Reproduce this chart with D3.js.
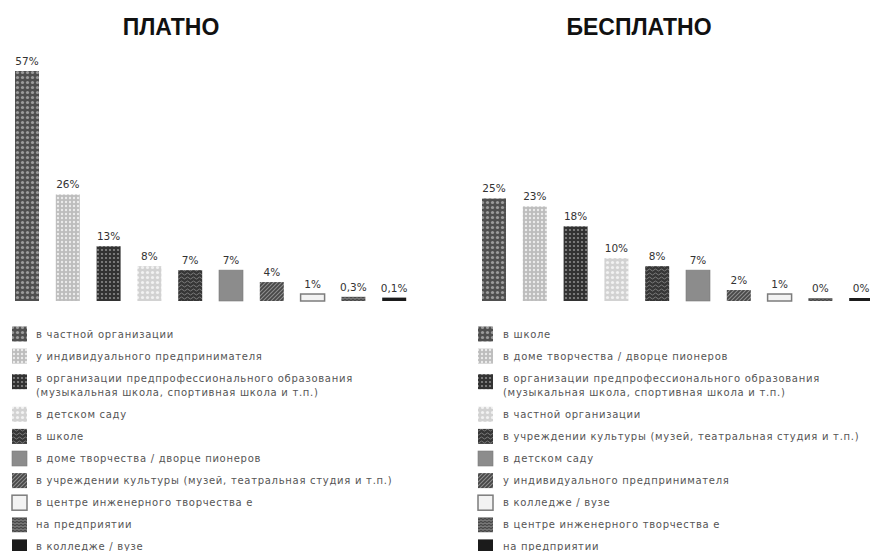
<!DOCTYPE html>
<html><head><meta charset="utf-8">
<script src="https://cdn.jsdelivr.net/npm/d3@7"></script>
<style>
html,body{margin:0;padding:0;background:#fff;}
svg{display:block;}
</style>
</head><body>
<svg id="chart" width="870" height="551"></svg>
<script>
// ---- data ----
const paidCategories = [
  "в частной организации",
  "у индивидуального предпринимателя",
  "в организации предпрофессионального образования\n(музыкальная школа, спортивная школа и т.п.)",
  "в детском саду",
  "в школе",
  "в доме творчества / дворце пионеров",
  "в учреждении культуры (музей, театральная студия и т.п.)",
  "в центре инженерного творчества е",
  "на предприятии",
  "в колледже / вузе"
];
const paidValues = [57, 26, 13, 8, 7, 7, 4, 1, 0.3, 0.1];
const paidLabels = ["57%", "26%", "13%", "8%", "7%", "7%", "4%", "1%", "0,3%", "0,1%"];

const freeCategories = [
  "в школе",
  "в доме творчества / дворце пионеров",
  "в организации предпрофессионального образования\n(музыкальная школа, спортивная школа и т.п.)",
  "в частной организации",
  "в учреждении культуры (музей, театральная студия и т.п.)",
  "в детском саду",
  "у индивидуального предпринимателя",
  "в колледже / вузе",
  "в центре инженерного творчества е",
  "на предприятии"
];
const freeValues = [25, 23, 18, 10, 8, 7, 2, 1, 0, 0];
const freeLabels = ["25%", "23%", "18%", "10%", "8%", "7%", "2%", "1%", "0%", "0%"];

const titles = ["ПЛАТНО", "БЕСПЛАТНО"];

// ---- drawing ----
const svg = d3.select("#chart");
const defs = svg.append("defs");

function pat(id, w, h, bg, draw) {
  const p = defs.append("pattern").attr("id", id).attr("patternUnits", "userSpaceOnUse")
    .attr("width", w).attr("height", h);
  p.append("rect").attr("width", w).attr("height", h).attr("fill", bg);
  if (draw) draw(p);
}
pat("p1", 5, 5, "#4f4f4f", p => {
  p.append("circle").attr("cx", 2.5).attr("cy", 2.5).attr("r", 1.6).attr("fill", "#9c9c9c");
});
pat("p2", 4, 4, "#bdbdbd", p => {
  p.append("circle").attr("cx", 2).attr("cy", 2).attr("r", 1.2).attr("fill", "#ececec");
});
pat("p3", 4, 4, "#323232", p => {
  p.append("circle").attr("cx", 2).attr("cy", 2).attr("r", 1.1).attr("fill", "#8a8a8a");
});
pat("p4", 5, 5, "#d2d2d2", p => {
  p.append("circle").attr("cx", 2.5).attr("cy", 2.5).attr("r", 1.6).attr("fill", "#f2f2f2");
});
pat("p5", 6, 4, "#363636", p => {
  p.append("path").attr("d", "M0,2 Q1.5,0 3,2 T6,2").attr("fill", "none").attr("stroke", "#7a7a7a").attr("stroke-width", 1);
});
pat("p6", 4, 4, "#8c8c8c");
pat("p7", 4, 4, "#474747", p => {
  p.append("path").attr("d", "M-1,1 L1,-1 M0,4 L4,0 M3,5 L5,3").attr("stroke", "#8e8e8e").attr("stroke-width", 1.1);
});
pat("p8", 4, 4, "#f3f3f3");
pat("p9", 4, 3, "#4a4a4a", p => {
  p.append("path").attr("d", "M0,1.5 Q1,0 2,1.5 T4,1.5").attr("fill", "none").attr("stroke", "#9a9a9a").attr("stroke-width", 0.9);
});
pat("p10", 4, 4, "#1b1b1b");

const fills = ["url(#p1)", "url(#p2)", "url(#p3)", "url(#p4)", "url(#p5)", "url(#p6)", "url(#p7)", "url(#p8)", "url(#p9)", "url(#p10)"];
const strokes = [null, null, null, null, null, "#7a7a7a", null, "#7c7c7c", null, null];

const baseline = 301;
const y = d3.scaleLinear().domain([0, 57]).range([baseline - 3, 71]);

const panels = [
  { cats: paidCategories, vals: paidValues, labs: paidLabels, x0: 15, titleX: 171, legX: 12, textX: 36, title: titles[0] },
  { cats: freeCategories, vals: freeValues, labs: freeLabels, x0: 482, titleX: 639, legX: 478, textX: 503, title: titles[1] }
];

const step = 40.8, bw = 24;

panels.forEach(pn => {
  const idx = d3.range(pn.vals.length);
  const x = d3.scaleBand().domain(idx)
    .range([pn.x0, pn.x0 + (idx.length - 1) * step + bw])
    .paddingInner(1 - bw / step).paddingOuter(0);

  const g = svg.append("g");
  g.append("text").attr("x", pn.titleX).attr("y", 35).attr("text-anchor", "middle")
    .attr("font-family", "'Liberation Sans', Arial, sans-serif").attr("font-weight", "bold")
    .attr("font-size", 23).attr("fill", "#111").text(pn.title);

  g.selectAll("rect.bar").data(idx).join("rect").attr("class", "bar")
    .attr("x", i => x(i)).attr("width", x.bandwidth())
    .attr("y", i => y(pn.vals[i])).attr("height", i => baseline - y(pn.vals[i]))
    .attr("fill", i => fills[i])
    .attr("stroke", i => strokes[i] || "none")
    .attr("stroke-width", i => i === 7 ? 1.5 : 0.6);

  g.selectAll("text.lab").data(idx).join("text").attr("class", "lab")
    .attr("x", i => x(i) + x.bandwidth() / 2).attr("y", i => y(pn.vals[i]) - 6)
    .attr("text-anchor", "middle").attr("font-family", "'DejaVu Sans', sans-serif")
    .attr("font-size", 10.5).attr("fill", "#333").text(i => pn.labs[i]);

  // legend
  const rowStep = 22.1, extra = 14;
  let cy = 334;
  pn.cats.forEach((c, i) => {
    const lines = c.split("\n");
    const sy = lines.length > 1 ? cy - 4 : cy - 7.5;
    g.append("rect").attr("x", pn.legX).attr("y", sy).attr("width", 15).attr("height", 15)
      .attr("fill", fills[i]).attr("stroke", strokes[i] || "none").attr("stroke-width", i === 7 ? 1.5 : 0.6);
    lines.forEach((ln, k) => {
      g.append("text").attr("x", pn.textX).attr("y", cy + k * 14 + 3.5)
        .attr("font-family", "'DejaVu Sans', sans-serif").attr("font-size", 10)
        .attr("letter-spacing", 0.72)
        .attr("fill", "#555").text(ln);
    });
    cy += rowStep + (lines.length > 1 ? extra : 0);
  });
});
</script>
</body></html>
